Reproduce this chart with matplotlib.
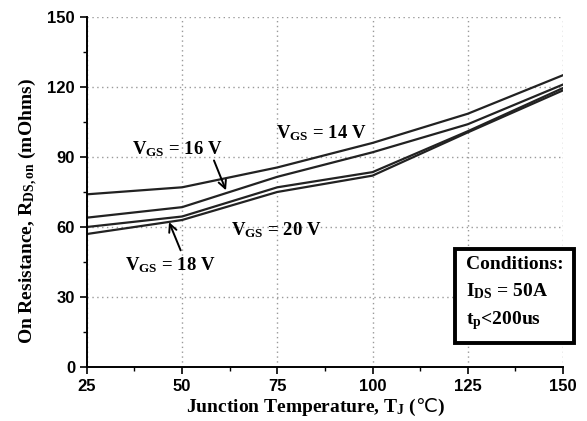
import numpy as np
import matplotlib
matplotlib.use('Agg')
import matplotlib.pyplot as plt

# data
temps = [25, 50, 75, 100, 125, 150]
r_vgs14 = [74, 77, 85.5, 96, 108.5, 125]
r_vgs16 = [64, 68.5, 81.5, 92, 104, 121]
r_vgs18 = [60, 64.5, 77, 83.5, 101, 119.5]
r_vgs20 = [57, 63, 75, 82, 100.5, 118.5]

x_ticks = [25, 50, 75, 100, 125, 150]
y_ticks = [0, 30, 60, 90, 120, 150]

plt.rcParams['font.family'] = ['Liberation Serif', 'DejaVu Serif']
plt.rcParams['mathtext.fontset'] = 'custom'
plt.rcParams['mathtext.rm'] = 'Liberation Serif:bold'
plt.rcParams['mathtext.bf'] = 'Liberation Serif:bold'
plt.rcParams['mathtext.it'] = 'Liberation Serif:bold'
plt.rcParams['mathtext.sf'] = 'DejaVu Sans'
plt.rcParams['mathtext.default'] = 'bf'

fig = plt.figure(figsize=(5.87, 4.21), dpi=100)
ax = fig.add_axes([0.148, 0.128, 0.811, 0.832])

for r in (r_vgs14, r_vgs16, r_vgs18, r_vgs20):
    ax.plot(temps, r, color='#222222', linewidth=1.6)

ax.set_xlim(25, 150)
ax.set_ylim(0, 150)
ax.set_xticks(x_ticks)
ax.set_yticks(y_ticks)
ax.set_xticks(np.arange(37.5, 150, 25), minor=True)
ax.set_yticks(np.arange(15, 150, 30), minor=True)
ax.tick_params(axis='both', which='major', direction='out', length=5, width=1.2,
               labelsize=12)
ax.tick_params(axis='both', which='minor', direction='out', length=3, width=1.0)
for lab in ax.get_xticklabels() + ax.get_yticklabels():
    lab.set_family('Liberation Sans')
    lab.set_fontweight('bold')

ax.grid(True, which='major', color='#999999', linestyle=(0, (1, 2.5)), linewidth=1.0)
ax.spines['top'].set_visible(False)
ax.spines['right'].set_visible(False)
ax.spines['left'].set_linewidth(1.4)
ax.spines['bottom'].set_linewidth(1.4)

ax.set_xlabel('Junction Temperature, T$_{J}$ ($\\mathsf{\u2103}$)', fontsize=14,
              fontweight='bold', va='center')
ax.xaxis.set_label_coords(0.481, -0.114)
ax.set_ylabel('On Resistance, R$_{DS,on}$ (mOhms)', fontsize=14, fontweight='bold',
              va='center')
ax.yaxis.set_label_coords(-0.122, 0.446)

lab_kw = dict(fontsize=13.5, fontweight='bold', ha='center', va='center')
ax.text(48.6, 93.5, 'V$_{GS}$ = 16 V', **lab_kw)
ax.text(86.5, 100, 'V$_{GS}$ = 14 V', **lab_kw)
ax.text(74.6, 58.5, 'V$_{GS}$ = 20 V', **lab_kw)
ax.text(47, 43.5, 'V$_{GS}$ = 18 V', **lab_kw)

arrow = dict(arrowstyle='->', color='black', lw=1.4, mutation_scale=14)
ax.annotate('', xy=(61.8, 74.6), xytext=(58.1, 89.6), arrowprops=arrow)
ax.annotate('', xy=(46.3, 63.2), xytext=(49.9, 48.9), arrowprops=arrow)

ax.text(0.796, 0.209, 'Conditions:\nI$_{DS}$ = 50A\nt$_{p}$<200us', transform=ax.transAxes,
        fontsize=14, fontweight='bold', ha='left', va='center', linespacing=1.55,
        bbox=dict(boxstyle='square,pad=0.55', facecolor='white', edgecolor='black',
                  linewidth=2.8))

fig.savefig('out.png', dpi=100)
